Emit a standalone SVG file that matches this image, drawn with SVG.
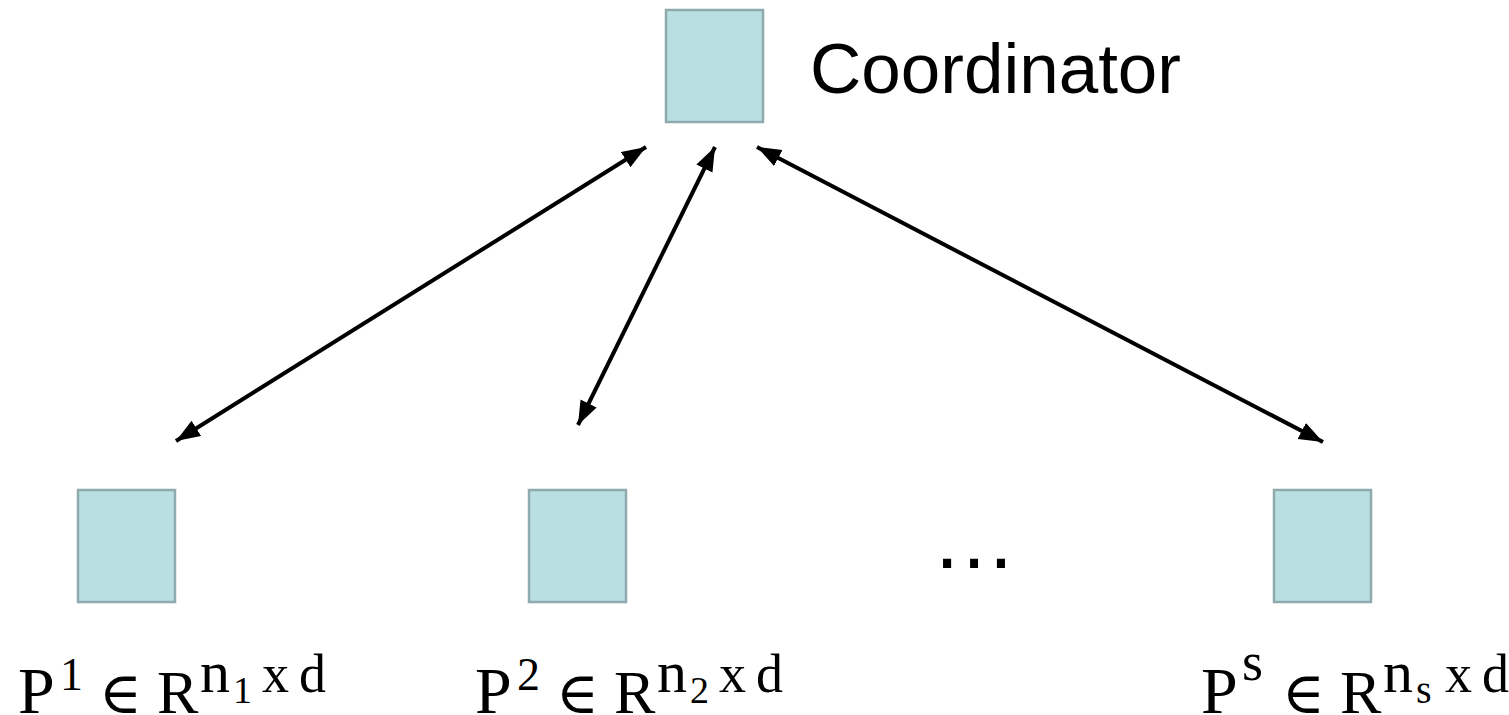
<svg xmlns="http://www.w3.org/2000/svg" width="1509" height="715" viewBox="0 0 1509 715">
<style>
.box{fill:#badfe3;stroke:#8eaaad;stroke-width:2.5}
.conn{stroke:#000;stroke-width:4;fill:none;marker-start:url(#ah);marker-end:url(#ah)}
.m{font-family:"Liberation Serif","DejaVu Serif",serif;fill:#000}
.el{font-family:"DejaVu Serif",serif}
.sans{font-family:"Liberation Sans",Arial,sans-serif;fill:#000}
</style>
<defs>
<marker id="ah" markerUnits="userSpaceOnUse" markerWidth="26" markerHeight="20" refX="24" refY="9" orient="auto-start-reverse">
<path d="M0,0 L24,9 L0,18 z" fill="#000"/>
</marker>
</defs>
<rect width="1509" height="715" fill="#fff"/>
<g id="coordinator">
<rect class="box" x="666" y="10" width="97" height="112"/>
<text class="sans" x="810" y="93" font-size="71">Coordinator</text>
</g>
<g id="p1">
<rect class="box" x="78" y="490" width="97" height="112"/>
<g class="m">
<text x="18" y="713" font-size="66">P</text>
<text x="60" y="690" font-size="46">1</text>
<text class="el" x="99" y="713" font-size="58">∈</text>
<text x="157" y="713" font-size="62">R</text>
<text x="200" y="692" font-size="60">n</text>
<text x="233" y="703" font-size="38">1</text>
<text x="262" y="692" font-size="54">x</text>
<text x="299" y="692" font-size="54">d</text>
</g>
</g>
<g id="p2">
<rect class="box" x="529" y="490" width="97" height="112"/>
<g class="m" transform="translate(457,0)">
<text x="18" y="713" font-size="66">P</text>
<text x="60" y="690" font-size="46">2</text>
<text class="el" x="99" y="713" font-size="58">∈</text>
<text x="157" y="713" font-size="62">R</text>
<text x="200" y="692" font-size="60">n</text>
<text x="233" y="703" font-size="38">2</text>
<text x="262" y="692" font-size="54">x</text>
<text x="299" y="692" font-size="54">d</text>
</g>
</g>
<g id="ps">
<rect class="box" x="1274" y="490" width="97" height="112"/>
<g class="m" transform="translate(1183,0)">
<text x="18" y="713" font-size="66">P</text>
<text x="59" y="680" font-size="54">s</text>
<text class="el" x="99" y="713" font-size="58">∈</text>
<text x="157" y="713" font-size="62">R</text>
<text x="200" y="692" font-size="60">n</text>
<text x="233" y="703" font-size="40">s</text>
<text x="262" y="692" font-size="54">x</text>
<text x="299" y="692" font-size="54">d</text>
</g>
</g>
<g id="ellipsis">
<text class="sans" x="974" y="568" font-size="85" text-anchor="middle">…</text>
</g>
<g id="connectors">
<line class="conn" x1="176" y1="441" x2="646" y2="147"/>
<line class="conn" x1="578" y1="425" x2="715" y2="147"/>
<line class="conn" x1="1323" y1="442" x2="757" y2="147"/>
</g>
</svg>
